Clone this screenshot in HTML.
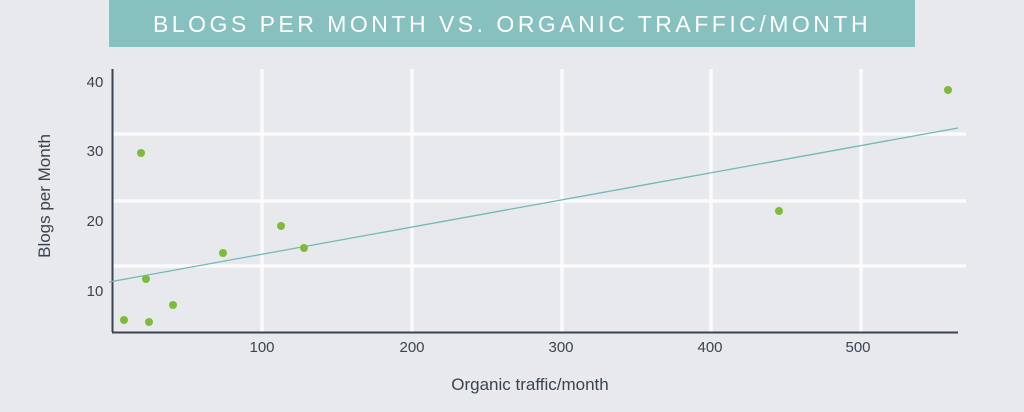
<!DOCTYPE html>
<html><head><style>
body{margin:0;width:1024px;height:407px;overflow:hidden;background:#e7e9ec;font-family:"Liberation Sans",sans-serif;}
</style></head><body>
<svg width="1024" height="407" xmlns="http://www.w3.org/2000/svg">
<rect width="1024" height="407" fill="#e7e9ec"/>
<rect x="109" y="0" width="806" height="47" fill="#86c1bf"/>
<text x="512" y="32" text-anchor="middle" fill="#fff" font-size="23" letter-spacing="3.5" font-family="Liberation Sans, sans-serif">BLOGS PER MONTH VS. ORGANIC TRAFFIC/MONTH</text>
<g stroke="#fbfbfc" stroke-width="3.5">
<line x1="262" y1="69" x2="262" y2="332"/>
<line x1="412" y1="69" x2="412" y2="332"/>
<line x1="562" y1="69" x2="562" y2="332"/>
<line x1="711" y1="69" x2="711" y2="332"/>
<line x1="861" y1="69" x2="861" y2="332"/>
<line x1="112" y1="134" x2="966" y2="134"/>
<line x1="112" y1="201" x2="966" y2="201"/>
<line x1="112" y1="266" x2="966" y2="266"/>
</g>
<line x1="112.5" y1="69" x2="112.5" y2="332" stroke="#3a4450" stroke-width="2"/>
<line x1="112" y1="332.5" x2="958" y2="332.5" stroke="#3a4450" stroke-width="2"/>
<line x1="109" y1="282" x2="958" y2="128" stroke="#72b8b5" stroke-width="1.3"/>
<g fill="#7dbb3a">
<circle cx="124" cy="320" r="4"/><circle cx="141" cy="153" r="4"/><circle cx="146" cy="279" r="4"/>
<circle cx="149" cy="322" r="4"/><circle cx="173" cy="305" r="4"/><circle cx="223" cy="253" r="4"/>
<circle cx="281" cy="226" r="4"/><circle cx="304" cy="248" r="4"/><circle cx="779" cy="211" r="4"/>
<circle cx="948" cy="90" r="4"/>
</g>
<g fill="#3a4450" font-size="15" text-anchor="middle">
<text x="95" y="87">40</text><text x="95" y="156">30</text><text x="95" y="226">20</text><text x="95" y="296">10</text>
<text x="262" y="352">100</text><text x="412" y="352">200</text><text x="561" y="352">300</text><text x="710" y="352">400</text><text x="858" y="352">500</text>
<text x="530" y="390" font-size="17">Organic traffic/month</text>
<text transform="translate(50,196) rotate(-90)" font-size="17">Blogs per Month</text>
</g>
</svg>
</body></html>
